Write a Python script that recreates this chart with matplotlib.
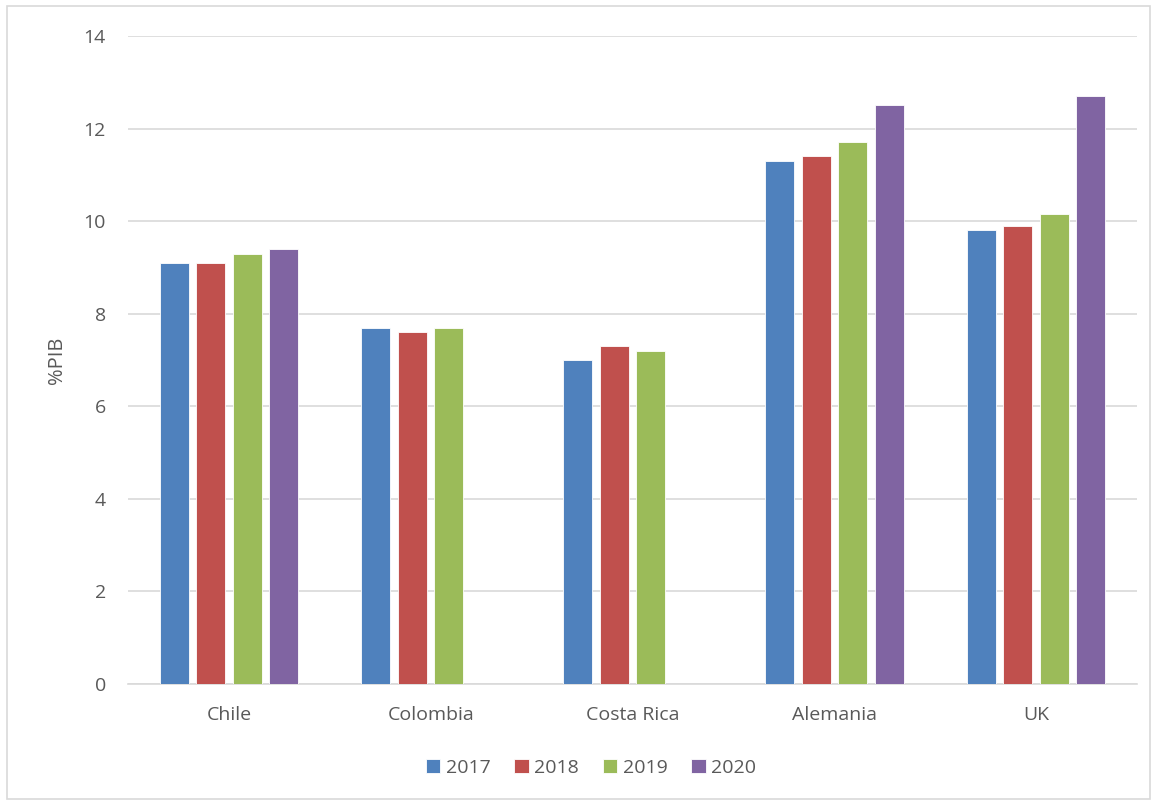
import matplotlib.pyplot as plt
import numpy as np
from matplotlib.patches import Rectangle

# Datos
paises = ["Chile", "Colombia", "Costa Rica", "Alemania", "UK"]
anios = ["2017", "2018", "2019", "2020"]
v2017 = [9.1, 7.7, 7.0, 11.3, 9.8]
v2018 = [9.1, 7.6, 7.3, 11.4, 9.9]
v2019 = [9.3, 7.7, 7.2, 11.7, 10.15]
v2020 = [9.4, np.nan, np.nan, 12.5, 12.7]
series = [v2017, v2018, v2019, v2020]
colores = ["#4F81BD", "#C0504D", "#9BBB59", "#8064A2"]

plt.rcParams['font.family'] = ['Open Sans', 'DejaVu Sans']
gris = "#595959"

fig = plt.figure(figsize=(11.53, 8.01), dpi=100)
ax = fig.add_axes([128 / 1153, 1 - 684 / 801, 1009 / 1153, 648 / 801])

x = np.arange(len(paises))
paso = 0.181
ancho = 0.144
for i, (vals, c) in enumerate(zip(series, colores)):
    ax.bar(x + (i - 1.5) * paso, vals, width=ancho, color=c,
           edgecolor="white", linewidth=0.6, label=anios[i], zorder=3)

ax.set_xlim(-0.5, 4.5)
ax.set_ylim(0, 14)
ax.set_yticks(range(0, 15, 2))
ax.set_xticks(x)
ax.set_xticklabels(paises)
ax.grid(axis="y", color="#d9d9d9", linewidth=1.2, zorder=0)
for s in ["top", "right", "left"]:
    ax.spines[s].set_visible(False)
ax.spines["bottom"].set_color("#d9d9d9")
ax.spines["bottom"].set_linewidth(1.2)
ax.tick_params(axis="both", length=0, colors=gris, labelsize=14)
ax.tick_params(axis="x", pad=16)
ax.tick_params(axis="y", pad=16)
ax.set_ylabel("%PIB", color=gris, fontsize=14.5, labelpad=12)

# leyenda abajo
fig.legend(loc="center", bbox_to_anchor=(591 / 1153, 1 - 768 / 801), ncol=4,
           frameon=False, fontsize=14, handlelength=0.75, handleheight=0.75,
           columnspacing=1.2, handletextpad=0.3, labelcolor=gris)

fig.patches.append(Rectangle((7 / 1153, 0.002), 1143 / 1153, 1 - 8 / 801,
                             transform=fig.transFigure, fill=False,
                             edgecolor="#d9d9d9", linewidth=1.2))

fig.savefig("out.png", dpi=100)
